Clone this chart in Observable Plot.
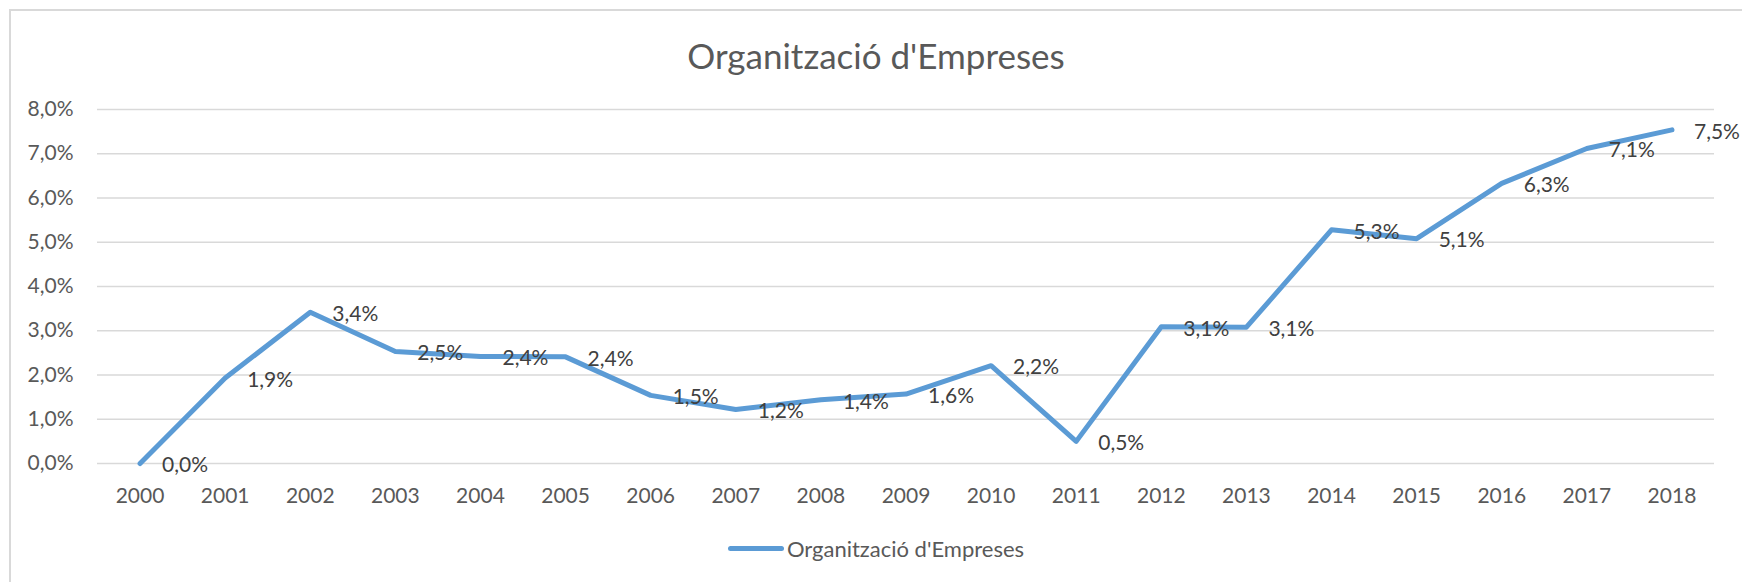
<!DOCTYPE html>
<html>
<head>
<meta charset="utf-8">
<script src="https://cdn.jsdelivr.net/npm/d3@7"></script>
<script src="https://cdn.jsdelivr.net/npm/@observablehq/plot@0.6"></script>
<style>
  html, body { margin: 0; padding: 0; background: #fff; }
  #wrap { position: relative; width: 1742px; height: 582px; overflow: hidden; font-family: Lato, "Open Sans", sans-serif; }
  #border { position: absolute; left: 9px; top: 9px; right: -10px; bottom: -10px; border: 2px solid #d9d9d9; }
  #title { position: absolute; left: 10px; right: 0; top: 38px; text-align: center; font-size: 35px; line-height: 35px; color: #595959; }
  #chart { position: absolute; left: 0; top: 85px; }
  #legend { position: absolute; left: 10px; right: 0; top: 536px; height: 24px; display: flex; justify-content: center; align-items: center; font-size: 22px; color: #595959; }
  #legend .sw { width: 56px; height: 5px; border-radius: 3px; background: #5b9bd5; margin-right: 3px; }
</style>
</head>
<body>
<div id="wrap">
  <div id="border"></div>
  <div id="title">Organització d'Empreses</div>
  <div id="chart"></div>
  <div id="legend"><span class="sw"></span><span>Organització d'Empreses</span></div>
</div>
<script>
const years = ["2000","2001","2002","2003","2004","2005","2006","2007","2008","2009","2010","2011","2012","2013","2014","2015","2016","2017","2018"];
const values = [0.0, 1.93, 3.42, 2.53, 2.42, 2.41, 1.54, 1.22, 1.44, 1.57, 2.21, 0.50, 3.09, 3.08, 5.28, 5.08, 6.33, 7.12, 7.54];
const yTicks = [0, 1, 2, 3, 4, 5, 6, 7, 8];
const seriesName = "Organització d'Empreses";

const data = years.map((y, i) => ({year: y, value: values[i]}));
const fmt = v => v.toFixed(1).replace(".", ",") + "%";

const chart = Plot.plot({
  width: 1742,
  height: 435,
  marginLeft: 97,
  marginRight: 28,
  marginTop: 24,
  marginBottom: 57,
  style: {fontFamily: "Lato, 'Open Sans', sans-serif", fontSize: "21px", color: "#595959", background: "transparent", overflow: "visible"},
  x: {type: "point", domain: years, padding: 0.5, round: false, label: null},
  y: {domain: [0, 8], label: null},
  marks: [
    Plot.gridY(yTicks, {stroke: "#d9d9d9", strokeOpacity: 1, strokeWidth: 1.5}),
    Plot.axisY(yTicks, {tickSize: 0, tickPadding: 24, tickFormat: fmt, label: null, fill: "#595959", fontSize: 21}),
    Plot.axisX({tickSize: 0, tickPadding: 25, label: null, fill: "#595959", fontSize: 21}),
    Plot.line(data, {x: "year", y: "value", stroke: "#5b9bd5", strokeWidth: 5, strokeLinejoin: "round", strokeLinecap: "round"}),
    Plot.text(data, {x: "year", y: "value", text: d => fmt(d.value), dx: 22, dy: 2, textAnchor: "start", fill: "#404040", fontSize: 21})
  ]
});
document.getElementById("chart").appendChild(chart);
</script>
</body>
</html>
